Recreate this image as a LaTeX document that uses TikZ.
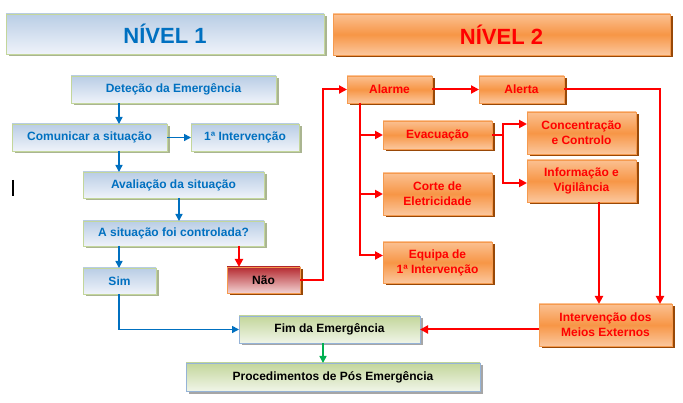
\documentclass[tikz,border=0pt]{standalone}
\usepackage{fontspec}
\setmainfont{Liberation Sans}
\usetikzlibrary{arrows.meta,shadows}
\definecolor{txtblue}{HTML}{0070C0}
\definecolor{blutop}{HTML}{B9CDE5}
\definecolor{blubot}{HTML}{EFF3FA}
\definecolor{blubord}{HTML}{C3D69B}
\definecolor{blushad}{HTML}{AAB591}
\definecolor{oratop}{HTML}{FBC091}
\definecolor{oramid}{HTML}{F79646}
\definecolor{orabot}{HTML}{FBC79E}
\definecolor{orabord}{HTML}{F59A4E}
\definecolor{orashad}{HTML}{984807}
\definecolor{grntop}{HTML}{C3D69B}
\definecolor{grnbot}{HTML}{F0F5E8}
\definecolor{grnbord}{HTML}{95B3D7}
\definecolor{grnshad}{HTML}{A6A6A6}
\definecolor{naotop}{HTML}{B52A30}
\definecolor{naobot}{HTML}{F2D2D2}
\definecolor{linblue}{HTML}{0070C0}
\definecolor{lingreen}{HTML}{00B050}
\begin{document}
\begin{tikzpicture}[x=1pt,y=-1pt,
    box/.style={draw, line width=0.8pt, anchor=north west, inner sep=0pt, outer sep=0pt,
      align=center, font=\bfseries\fontsize{12}{15}\selectfont},
    bluebox/.style={box, draw=blubord, top color=blutop, bottom color=blubot, text=txtblue,
      general shadow={shadow xshift=2.5pt, shadow yshift=-2.5pt, fill=blushad}},
    orangebox/.style={box, draw=orabord, top color=oratop, bottom color=orabot, middle color=oramid,
      text=red, general shadow={shadow xshift=2.5pt, shadow yshift=-2.5pt, fill=orashad}},
    greenbox/.style={box, draw=grnbord, top color=grntop, bottom color=grnbot, text=black,
      general shadow={shadow xshift=2.5pt, shadow yshift=-2.5pt, fill=grnshad}},
    naobox/.style={box, draw=orabord, top color=naotop, bottom color=naobot, text=black,
      general shadow={shadow xshift=2.5pt, shadow yshift=-2.5pt, fill=orashad}},
    bluearrow/.style={draw=linblue, line width=1.6pt, -{Triangle[length=7pt,width=7pt]}},
    redarrow/.style={draw=red, line width=2pt, -{Triangle[length=8pt,width=8pt]}},
    greenarrow/.style={draw=lingreen, line width=1.6pt, -{Triangle[length=7pt,width=7pt]}}]
  \useasboundingbox [fill=white] (0,0) rectangle (683,403);
  \node [bluebox, minimum width=318pt, minimum height=40pt, font=\bfseries\fontsize{22}{26}\selectfont] (nivel1) at (6,14) {NÍVEL 1};
  \node [orangebox, minimum width=337pt, minimum height=41pt, font=\bfseries\fontsize{22}{26}\selectfont] (nivel2) at (333,14) {NÍVEL 2};
  \node [bluebox, minimum width=205pt, minimum height=27pt] (detecao) at (71,76) {Deteção da Emergência};
  \node [bluebox, minimum width=155pt, minimum height=27pt] (comunicar) at (12,124) {Comunicar a situação};
  \node [bluebox, minimum width=108pt, minimum height=27pt] (primint) at (191,124) {1ª Intervenção};
  \node [bluebox, minimum width=181pt, minimum height=26pt] (avaliacao) at (83,172) {Avaliação da situação};
  \node [bluebox, minimum width=181pt, minimum height=25pt] (controlada) at (83,221) {A situação foi controlada?};
  \node [bluebox, minimum width=73pt, minimum height=26pt] (sim) at (83,268) {Sim};
  \node [naobox, minimum width=73pt, minimum height=26pt] (nao) at (227,267) {Não};
  \node [orangebox, minimum width=85pt, minimum height=27pt] (alarme) at (347,76) {Alarme};
  \node [orangebox, minimum width=85pt, minimum height=27pt] (alerta) at (479,76) {Alerta};
  \node [orangebox, minimum width=109pt, minimum height=28pt] (evacuacao) at (383,121) {Evacuação};
  \node [orangebox, minimum width=109pt, minimum height=42pt] (corte) at (383,173) {Corte de\\Eletricidade};
  \node [orangebox, minimum width=109pt, minimum height=41pt] (equipa) at (383,242) {Equipa de\\1ª Intervenção};
  \node [orangebox, minimum width=109pt, minimum height=42pt] (concentracao) at (527,112) {Concentração\\e Controlo};
  \node [orangebox, minimum width=109pt, minimum height=42pt] (informacao) at (527,160) {Informação e\\Vigilância};
  \node [orangebox, minimum width=133pt, minimum height=42pt] (externos) at (539,304) {Intervenção dos\\Meios Externos};
  \node [greenbox, minimum width=181pt, minimum height=27pt] (fim) at (239,316) {Fim da Emergência};
  \node [greenbox, minimum width=294pt, minimum height=28pt] (posemerg) at (186,363) {Procedimentos de Pós Emergência};
  \coordinate (colA) at (119,0);
  \coordinate (colB) at (179,0);
  \coordinate (colC) at (239,0);
  \coordinate (colD) at (323,0);
  \coordinate (colE) at (660,0);
  \coordinate (colF) at (360,0);
  \coordinate (colG) at (503,0);
  \coordinate (colH) at (599,0);
  \draw [bluearrow] (detecao.south -| colA) -- (comunicar.north -| colA);
  \draw [bluearrow] (comunicar.east) -- (primint.west);
  \draw [bluearrow] (comunicar.south -| colA) -- (avaliacao.north -| colA);
  \draw [bluearrow] (avaliacao.south -| colB) -- (controlada.north -| colB);
  \draw [bluearrow] (controlada.south -| colA) -- (sim.north -| colA);
  \draw [bluearrow] (sim.south -| colA) |- (fim.west);
  \draw [redarrow] (controlada.south -| colC) -- (nao.north -| colC);
  \draw [redarrow] (nao.east) -- (nao.east -| colD) |- (alarme.west);
  \draw [redarrow] (alarme.east) -- (alerta.west);
  \draw [redarrow] (alerta.east) -| (externos.north -| colE);
  \draw [redarrow] (alarme.south -| colF) |- (evacuacao.west);
  \draw [redarrow] (alarme.south -| colF) |- (corte.west);
  \draw [redarrow] (alarme.south -| colF) |- ([yshift=7pt]equipa.west);
  \draw [redarrow] (evacuacao.east) -- (evacuacao.east -| colG) |- ([yshift=9pt]concentracao.west);
  \draw [redarrow] (evacuacao.east -| colG) |- ([yshift=-2pt]informacao.west);
  \draw [redarrow] (informacao.south -| colH) -- (externos.north -| colH);
  \draw [redarrow] (externos.west |- fim.east) -- (fim.east);
  \draw [greenarrow] (fim.south -| colD) -- (posemerg.north -| colD);
  \draw [line width=2pt] (13,180) -- (13,196);
\end{tikzpicture}
\end{document}
